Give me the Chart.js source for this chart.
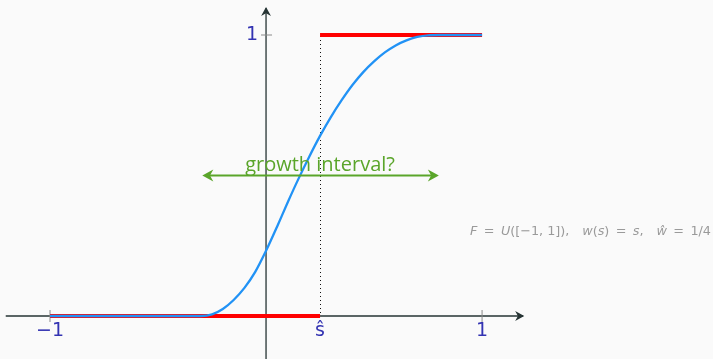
<!DOCTYPE html>
<html>
<head>
<meta charset="utf-8">
<script src="https://cdn.jsdelivr.net/npm/chart.js@4/dist/chart.umd.min.js"></script>
<style>
  html, body { margin: 0; padding: 0; background: #fafafa; }
  #wrap { width: 713px; height: 359px; }
</style>
</head>
<body>
<div id="wrap"><canvas id="cdf"></canvas></div>
<script>
// smoothed CDF, sampled every 0.05 on [-1, 1]
var cdfX = [-1, -0.95, -0.9, -0.85, -0.8, -0.75, -0.7, -0.65, -0.6, -0.55, -0.5, -0.45, -0.4, -0.35, -0.3,
    -0.25, -0.2, -0.15, -0.1, -0.05, 0, 0.05, 0.1, 0.15, 0.2, 0.25, 0.3, 0.35, 0.4, 0.45, 0.5,
    0.55, 0.6, 0.65, 0.7, 0.75, 0.8, 0.85, 0.9, 0.95, 1];
var cdfY = [0, 0, 0, 0, 0, 0, 0, 0, 0, 0, 0, 0, 0, 0, 0,
    0.006, 0.025, 0.057, 0.1, 0.157, 0.232, 0.316, 0.404, 0.488, 0.567, 0.641, 0.708, 0.768, 0.822, 0.868, 0.906,
    0.938, 0.963, 0.981, 0.993, 0.999, 1, 1, 1, 1, 1];

// step at s-hat
var sHat = 0.25;
var stepLow = [[-1, 0], [sHat, 0]];
var stepHigh = [[sHat, 1], [1, 1]];

// arrow for the growth interval
var growthArrow = [-0.295, 0.8];
var growthLevel = 0.5;
var growthLabel = 'growth interval?';

var xTicks = [-1, sHat, 1];
var xTickLabels = ['\u22121', '\u015D', '1'];
var yTicks = [1];
var yTickLabels = ['1'];

// parameter note, pieces flagged italic for variables
var EN = '\u2002';
var note = [
    ['F', true], [EN + '=' + EN, false], ['U', true], ['([\u22121, 1]),' + EN + EN, false],
    ['w', true], ['(', false], ['s', true], [')' + EN + '=' + EN, false], ['s', true], [',' + EN + EN, false],
    ['\u0175', true], [EN + '=' + EN + '1/4', false]
];

function toPoints(xs, ys) {
    return xs.map(function (x, i) { return { x: x, y: ys[i] }; });
}
function pairs(arr) {
    return arr.map(function (p) { return { x: p[0], y: p[1] }; });
}

var tickColor = '#3333b2';
var axisColor = '#263434';

function arrowHead(ctx, x, y, dir, size) {
    // dir: angle the arrow points to
    ctx.save();
    ctx.translate(x, y);
    ctx.rotate(dir);
    ctx.beginPath();
    ctx.moveTo(0, 0);
    ctx.lineTo(-size, -size * 0.55);
    ctx.lineTo(-size * 0.7, 0);
    ctx.lineTo(-size, size * 0.55);
    ctx.closePath();
    ctx.fill();
    ctx.restore();
}

var decorations = {
    id: 'decorations',
    beforeDatasetsDraw: function (chart) {
        var ctx = chart.ctx;
        var xs = chart.scales.x, ys = chart.scales.y;
        var X = function (v) { return xs.getPixelForValue(v); };
        var Y = function (v) { return ys.getPixelForValue(v); };
        ctx.save();

        // axes
        ctx.strokeStyle = axisColor;
        ctx.fillStyle = axisColor;
        ctx.lineWidth = 1.3;
        ctx.beginPath();
        ctx.moveTo(X(-1.205), Y(0));
        ctx.lineTo(X(1.19), Y(0));
        ctx.moveTo(X(0), Y(-0.16));
        ctx.lineTo(X(0), Y(1.095));
        ctx.stroke();
        arrowHead(ctx, X(1.195), Y(0), 0, 9);
        arrowHead(ctx, X(0), Y(1.1), -Math.PI / 2, 9);

        // ticks
        ctx.strokeStyle = '#8a8a8a';
        ctx.lineWidth = 1;
        ctx.beginPath();
        [-1, 1].forEach(function (t) {
            ctx.moveTo(X(t), Y(0) - 6);
            ctx.lineTo(X(t), Y(0) + 6);
        });
        yTicks.forEach(function (t) {
            ctx.moveTo(X(0) - 5, Y(t));
            ctx.lineTo(X(0) + 6, Y(t));
        });
        ctx.stroke();

        // dotted guide at s-hat
        ctx.fillStyle = '#111';
        var gx = Math.round(X(sHat));
        for (var py = Math.round(Y(0)) - 4; py > Y(1); py -= 4) {
            ctx.fillRect(gx, py, 1, 1);
        }

        // tick labels
        ctx.fillStyle = tickColor;
        ctx.font = '19px "DejaVu Sans"';
        ctx.textAlign = 'center';
        ctx.textBaseline = 'middle';
        xTicks.forEach(function (t, i) {
            ctx.fillText(xTickLabels[i], X(t), Y(0) + 15);
        });
        ctx.textAlign = 'right';
        yTicks.forEach(function (t, i) {
            ctx.fillText(yTickLabels[i], X(0) - 8, Y(t));
        });
        ctx.restore();
    },
    afterDatasetsDraw: function (chart) {
        var ctx = chart.ctx;
        var xs = chart.scales.x, ys = chart.scales.y;
        var X = function (v) { return xs.getPixelForValue(v); };
        var Y = function (v) { return ys.getPixelForValue(v); };
        ctx.save();

        // growth interval arrow
        var green = '#5aa52a';
        ctx.strokeStyle = green;
        ctx.fillStyle = green;
        ctx.lineWidth = 2;
        ctx.beginPath();
        ctx.moveTo(X(growthArrow[0]) + 4, Y(growthLevel));
        ctx.lineTo(X(growthArrow[1]) - 4, Y(growthLevel));
        ctx.stroke();
        arrowHead(ctx, X(growthArrow[0]), Y(growthLevel), Math.PI, 11);
        arrowHead(ctx, X(growthArrow[1]), Y(growthLevel), 0, 11);
        ctx.font = '20px "Open Sans"';
        ctx.textAlign = 'center';
        ctx.textBaseline = 'alphabetic';
        ctx.fillText(growthLabel, X(sHat), Y(growthLevel) - 5);

        // parameter note
        ctx.fillStyle = '#9a9a9a';
        ctx.textBaseline = 'middle';
        ctx.textAlign = 'left';
        var nx = 470, ny = 232;
        note.forEach(function (seg) {
            ctx.font = (seg[1] ? 'italic ' : '') + '12.8px "DejaVu Sans"';
            ctx.fillText(seg[0], nx, ny);
            nx += ctx.measureText(seg[0]).width;
        });
        ctx.restore();
    }
};

new Chart(document.getElementById('cdf'), {
    type: 'line',
    data: {
        datasets: [
            {
                data: toPoints(cdfX, cdfY),
                borderColor: '#2192f5',
                borderWidth: 2.3,
                pointRadius: 0,
                cubicInterpolationMode: 'monotone',
                order: 0
            },
            {
                data: pairs(stepLow),
                borderColor: '#ff0000',
                borderWidth: 4,
                pointRadius: 0,
                order: 1
            },
            {
                data: pairs(stepHigh),
                borderColor: '#ff0000',
                borderWidth: 4,
                pointRadius: 0,
                order: 1
            }
        ]
    },
    options: {
        responsive: true,
        maintainAspectRatio: false,
        animation: false,
        layout: { padding: 0 },
        plugins: { legend: { display: false }, tooltip: { enabled: false } },
        scales: {
            x: { type: 'linear', min: -1.2315, max: 2.069, display: false },
            y: { type: 'linear', min: -0.153, max: 1.1246, display: false }
        }
    },
    plugins: [decorations]
});
</script>
</body>
</html>
